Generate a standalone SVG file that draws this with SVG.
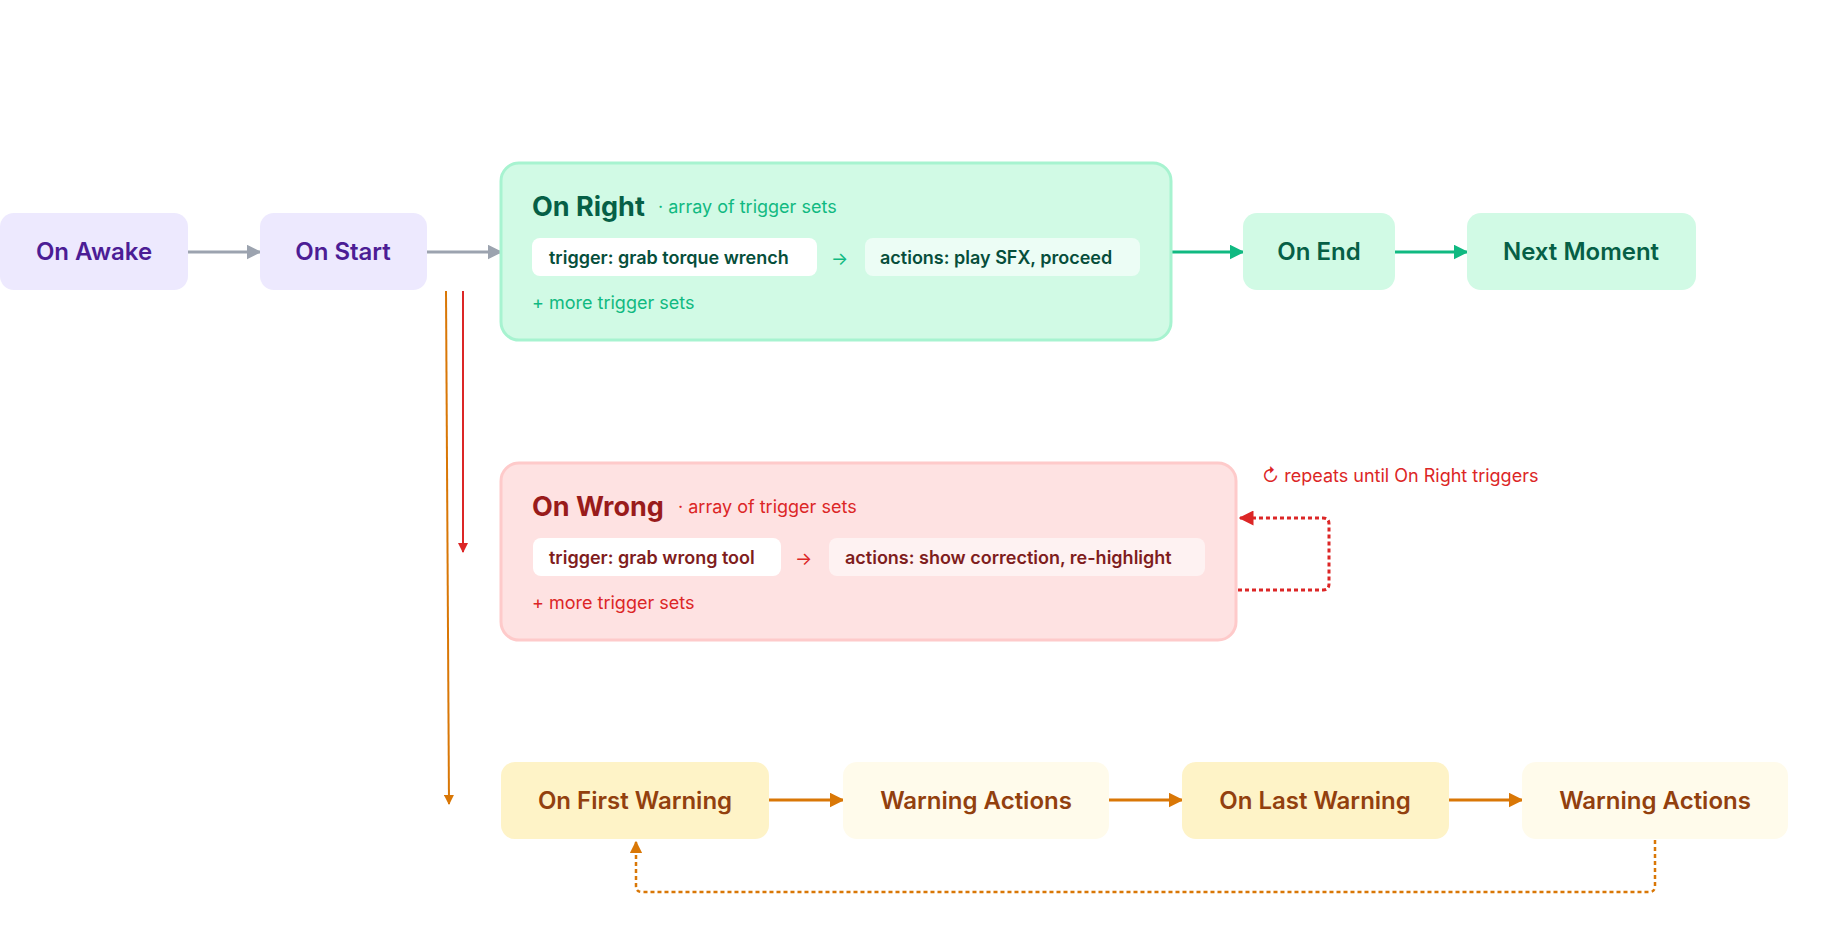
<svg xmlns="http://www.w3.org/2000/svg" width="1840" height="932" viewBox="0 0 1840 932">
<style>
text{font-family:Inter,"Noto Sans",sans-serif}
.n{font-size:24px;font-weight:600;text-anchor:middle}
.t{font-size:27px;font-weight:700}
.s{font-size:18px}
.p{font-size:18px;font-weight:600}
</style>
<defs>
<marker id="ag" viewBox="0 0 10 10" refX="9" refY="5" markerWidth="5" markerHeight="5" orient="auto"><path d="M0,0L10,5L0,10z" fill="#9ca3af"/></marker>
<marker id="agr" viewBox="0 0 10 10" refX="9" refY="5" markerWidth="5" markerHeight="5" orient="auto"><path d="M0,0L10,5L0,10z" fill="#10b981"/></marker>
<marker id="ar" viewBox="0 0 10 10" refX="9" refY="5" markerWidth="5" markerHeight="5" orient="auto"><path d="M0,0L10,5L0,10z" fill="#dc2626"/></marker>
<marker id="ao" viewBox="0 0 10 10" refX="9" refY="5" markerWidth="5" markerHeight="5" orient="auto"><path d="M0,0L10,5L0,10z" fill="#d97706"/></marker>
</defs>
<rect width="1840" height="932" fill="#fff"/>
<g id="connectors" fill="none" stroke-width="3">
<line x1="188" y1="252" x2="260" y2="252" stroke="#9ca3af" marker-end="url(#ag)"/>
<line x1="427" y1="252" x2="501" y2="252" stroke="#9ca3af" marker-end="url(#ag)"/>
<line x1="1171" y1="252" x2="1243" y2="252" stroke="#10b981" marker-end="url(#agr)"/>
<line x1="1395" y1="252" x2="1467" y2="252" stroke="#10b981" marker-end="url(#agr)"/>
<line x1="463" y1="291" x2="463" y2="552" stroke="#dc2626" stroke-width="2" marker-end="url(#ar)"/>
<line x1="446" y1="291" x2="449" y2="804" stroke="#d97706" stroke-width="2" marker-end="url(#ao)"/>
<line x1="769" y1="800" x2="843" y2="800" stroke="#d97706" marker-end="url(#ao)"/>
<line x1="1109" y1="800" x2="1182" y2="800" stroke="#d97706" marker-end="url(#ao)"/>
<line x1="1449" y1="800" x2="1522" y2="800" stroke="#d97706" marker-end="url(#ao)"/>
<path d="M1238,590H1323q6,0 6,-6V524q0,-6 -6,-6H1240" stroke="#dc2626" stroke-dasharray="4 3" marker-end="url(#ar)"/>
<path d="M1655,840V886q0,6 -6,6H642q-6,0 -6,-6V842" stroke="#d97706" stroke-width="2.5" stroke-dasharray="4 3" marker-end="url(#ao)"/>
</g>
<g id="on-awake"><rect x="0" y="213" width="188" height="77" rx="14" fill="#ede9fe"/><text class="n" x="94" y="260" fill="#4c1d95">On Awake</text></g>
<g id="on-start"><rect x="260" y="213" width="167" height="77" rx="14" fill="#ede9fe"/><text class="n" x="343" y="260" fill="#4c1d95">On Start</text></g>
<g id="on-right">
<rect x="501" y="163" width="670" height="177" rx="18" fill="#d1fae5" stroke="#a7f3d0" stroke-width="3"/>
<text class="t" x="532" y="216" fill="#065f46">On Right</text>
<text class="s" x="658" y="213" fill="#10b981">· array of trigger sets</text>
<rect x="532" y="238" width="285" height="38" rx="8" fill="#fff"/>
<text class="p" x="549" y="264" fill="#064e3b">trigger: grab torque wrench</text>
<text class="s" x="831" y="265" fill="#10b981">→</text>
<rect x="865" y="238" width="275" height="38" rx="8" fill="#ecfdf5"/>
<text class="p" x="880" y="264" fill="#064e3b">actions: play SFX, proceed</text>
<text class="s" x="532" y="309" fill="#10b981">+ more trigger sets</text>
</g>
<g id="on-end"><rect x="1243" y="213" width="152" height="77" rx="14" fill="#d1fae5"/><text class="n" x="1319" y="260" fill="#065f46">On End</text></g>
<g id="next-moment"><rect x="1467" y="213" width="229" height="77" rx="14" fill="#d1fae5"/><text class="n" x="1581" y="260" fill="#065f46">Next Moment</text></g>
<g id="on-wrong">
<rect x="501" y="463" width="735" height="177" rx="18" fill="#fee2e2" stroke="#fecaca" stroke-width="3"/>
<text class="t" x="532" y="516" fill="#991b1b">On Wrong</text>
<text class="s" x="678" y="513" fill="#dc2626">· array of trigger sets</text>
<rect x="533" y="538" width="248" height="38" rx="8" fill="#fff"/>
<text class="p" x="549" y="564" fill="#7f1d1d">trigger: grab wrong tool</text>
<text class="s" x="795" y="565" fill="#dc2626">→</text>
<rect x="829" y="538" width="376" height="38" rx="8" fill="#fef2f2"/>
<text class="p" x="845" y="564" fill="#7f1d1d">actions: show correction, re-highlight</text>
<text class="s" x="532" y="609" fill="#dc2626">+ more trigger sets</text>
</g>
<g id="repeat-note"><text class="s" x="1262" y="482" fill="#dc2626">↻ repeats until On Right triggers</text></g>
<g id="on-first-warning"><rect x="501" y="762" width="268" height="77" rx="14" fill="#fef3c7"/><text class="n" x="635" y="809" fill="#92400e">On First Warning</text></g>
<g id="warning-actions-1"><rect x="843" y="762" width="266" height="77" rx="14" fill="#fffbeb"/><text class="n" x="976" y="809" fill="#92400e">Warning Actions</text></g>
<g id="on-last-warning"><rect x="1182" y="762" width="267" height="77" rx="14" fill="#fef3c7"/><text class="n" x="1315" y="809" fill="#92400e">On Last Warning</text></g>
<g id="warning-actions-2"><rect x="1522" y="762" width="266" height="77" rx="14" fill="#fffbeb"/><text class="n" x="1655" y="809" fill="#92400e">Warning Actions</text></g>
</svg>
